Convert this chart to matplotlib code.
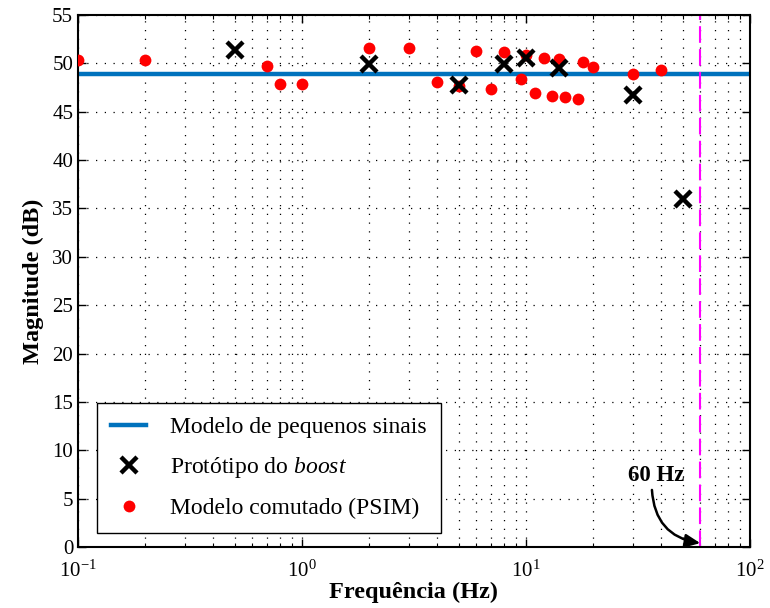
import numpy as np
import matplotlib
matplotlib.use("Agg")
import matplotlib.pyplot as plt

plt.rcParams['font.family'] = ['Liberation Serif', 'DejaVu Serif']
plt.rcParams['mathtext.fontset'] = 'custom'
plt.rcParams['mathtext.rm'] = 'Liberation Serif'
plt.rcParams['mathtext.it'] = 'Liberation Serif:italic'
plt.rcParams['mathtext.bf'] = 'Liberation Serif:bold'

# ---------------- data ----------------
small_signal_db = 48.9

proto_freq = [0.5, 2, 5, 8, 10, 14, 30, 50]
proto_mag = [51.4, 49.9, 47.8, 49.9, 50.6, 49.5, 46.7, 36.0]

psim_freq = [0.1, 0.2, 0.7, 0.8, 1, 2, 3, 4, 5, 6, 7, 8, 9.5, 10,
             11, 12, 13, 14, 15, 17, 18, 20, 30, 40]
psim_mag = [50.3, 50.3, 49.7, 47.9, 47.9, 51.6, 51.6, 48.1, 47.7, 51.3,
            47.3, 51.2, 48.4, 50.9, 46.9, 50.6, 46.6, 50.5, 46.5, 46.3,
            50.1, 49.6, 48.9, 49.3]

grid_freq = 60
yticks = np.arange(0, 56, 5)

# ---------------- plot ----------------
fig = plt.figure(figsize=(7.7, 6.08), dpi=100)
ax = fig.add_axes([0.1013, 0.1003, 0.8727, 0.875])

ax.axhline(small_signal_db, color='#0072BD', lw=3.2, zorder=2,
           label='Modelo de pequenos sinais')
ax.plot(proto_freq, proto_mag, 'x', color='black', ms=12, mew=3.2,
        zorder=4, label=r'Protótipo do $\mathit{boost}$')
ax.plot(psim_freq, psim_mag, 'o', color='red', ms=8.5, mec='none',
        zorder=3, label='Modelo comutado (PSIM)')
ax.axvline(grid_freq, color='magenta', lw=1.5, ls=(0, (8, 3)), zorder=2)

ax.set_xscale('log')
ax.set_xlim(0.1, 100)
ax.set_ylim(0, 55)
ax.set_yticks(yticks)

ax.grid(True, which='major', ls=(0, (1, 6)), color='black', lw=0.9)
ax.grid(True, which='minor', axis='x', ls=(0, (1, 6)), color='black', lw=0.9)
ax.tick_params(which='both', direction='in', top=True, right=True,
               labelsize=15)
ax.tick_params(axis='x', which='both', pad=10)
ax.tick_params(which='major', length=6, width=1)
ax.tick_params(which='minor', length=3, width=0.8)
for s in ax.spines.values():
    s.set_linewidth(1.5)

ax.set_xlabel('Frequência (Hz)', fontsize=17.5, fontweight='bold', labelpad=0)
ax.set_ylabel('Magnitude (dB)', fontsize=17.5, fontweight='bold', labelpad=6)

ax.text(38, 7.4, '60 Hz', fontsize=16.5, fontweight='bold',
        ha='center', va='center')
ax.annotate('', xy=(grid_freq, 0.4), xytext=(36.5, 5.9),
            arrowprops=dict(arrowstyle='-|>,head_length=0.9,head_width=0.4',
                            color='black', lw=1.8, shrinkA=0, shrinkB=0,
                            connectionstyle='arc3,rad=0.4'))

leg = ax.legend(loc='lower left', bbox_to_anchor=(0.028, 0.026),
                borderaxespad=0, fontsize=17, fancybox=False, framealpha=1,
                edgecolor='black', handlelength=1.5, handletextpad=1.0,
                borderpad=0.6, labelspacing=0.72)
leg.get_frame().set_linewidth(1.0)

fig.savefig('out.png', dpi=100)
